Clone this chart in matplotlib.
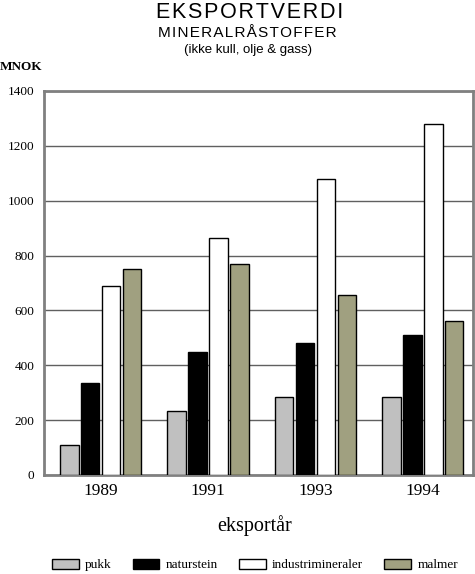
import numpy as np
import matplotlib.pyplot as plt

# data (MNOK)
years = ["1989", "1991", "1993", "1994"]
series = ["pukk", "naturstein", "industrimineraler", "malmer"]
pukk = [110, 232, 285, 285]
naturstein = [335, 450, 480, 510]
industrimineraler = [690, 865, 1080, 1280]
malmer = [750, 770, 655, 560]
colors = ["#c0c0c0", "#000000", "#ffffff", "#a0a080"]

values = [pukk, naturstein, industrimineraler, malmer]


def spaced(s):
    # the original titles are letter-spaced
    return "\u200a".join(s)


fig = plt.figure(figsize=(4.75, 5.74), dpi=100)
ax = fig.add_axes([0.0933, 0.1725, 0.9031, 0.669])

x = np.arange(len(years))
step = 0.195
width = 0.172
bars = []
for i, (vals, col) in enumerate(zip(values, colors)):
    b = ax.bar(x + (i - 1.5) * step, vals, width, color=col,
               edgecolor="black", linewidth=1.0, label=series[i], zorder=3)
    bars.append(b)

ax.set_xlim(-0.525, 3.47)
ax.set_ylim(0, 1400)
ax.set_yticks(range(0, 1401, 200))
ax.set_xticks(x)
ax.set_xticklabels(years, fontsize=12.5, family="Liberation Serif")
for lab in ax.get_yticklabels():
    lab.set_family("Liberation Serif")
    lab.set_fontsize(9.5)
ax.tick_params(axis="both", length=0)
ax.tick_params(axis="y", pad=7)
ax.tick_params(axis="x", pad=6)
ax.grid(axis="y", color="#606060", linewidth=1.0, zorder=0)
for s in ax.spines.values():
    s.set_color("#808080")
    s.set_linewidth(2)

# titles
tfont = ["Liberation Sans", "DejaVu Sans"]
fig.text(0.526, 0.978, spaced("EKSPORTVERDI"), ha="center", va="center",
         fontsize=15.5, family=tfont)
fig.text(0.52, 0.942, spaced("MINERALRÅSTOFFER"), ha="center", va="center",
         fontsize=11, family=tfont)
fig.text(0.522, 0.913, "(ikke kull, olje & gass)", ha="center", va="center",
         fontsize=9.5, family=tfont)
fig.text(0.0, 0.884, "MNOK", ha="left", va="center", fontsize=9.5,
         fontweight="bold", family="Liberation Serif")
fig.text(0.535, 0.084, "eksportår", ha="center", va="center",
         fontsize=14.5, family="Liberation Serif")

fig.legend(handles=bars, labels=series, loc="center", ncol=4,
           bbox_to_anchor=(0.537, 0.0155), frameon=False,
           prop={"family": "Liberation Serif", "size": 9.5},
           handlelength=2.0, handleheight=0.8, handletextpad=0.5,
           columnspacing=1.6, borderpad=0)

fig.savefig("out.png", dpi=100)
